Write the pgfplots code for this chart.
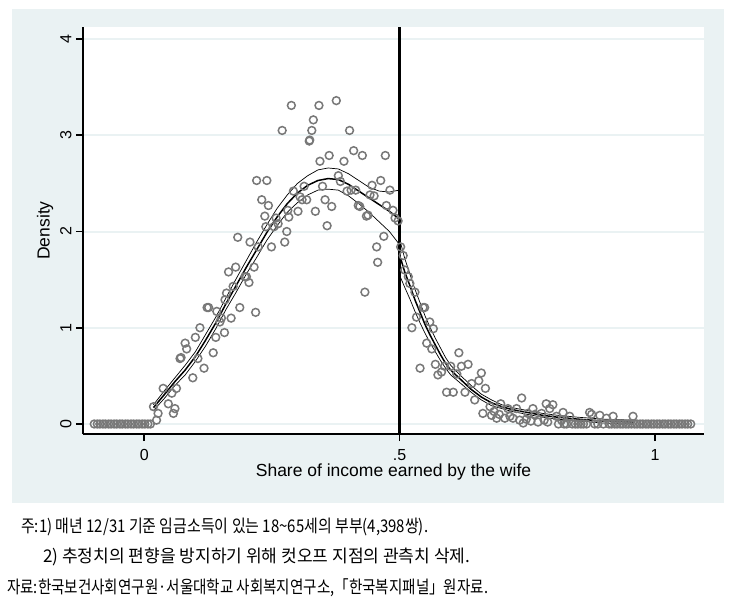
\documentclass[border=0pt]{standalone}
\usepackage{fontspec}
\setmainfont{Liberation Sans}
\newfontfamily\kr{Noto Sans CJK KR}
\usepackage{graphicx}
\usepackage{pgfplots}
\usepackage{pgfplotstable}
\pgfplotsset{compat=1.18}
\definecolor{bgc}{RGB}{234,242,243}
\definecolor{mk}{RGB}{120,120,120}

\pgfplotstableread{
x y
-0.098 0
-0.092 0
-0.087 0
-0.081 0
-0.076 0
-0.070 0
-0.065 0
-0.059 0
-0.054 0
-0.048 0
-0.043 0
-0.037 0
-0.032 0
-0.026 0
-0.021 0
-0.015 0
-0.010 0
-0.004 0
0.001 0
0.007 0
0.012 0
0.018 0.18
0.024 0.04
0.027 0.11
0.037 0.37
0.047 0.21
0.054 0.32
0.057 0.11
0.060 0.16
0.063 0.37
0.070 0.68
0.072 0.69
0.080 0.84
0.083 0.78
0.095 0.48
0.100 0.90
0.105 0.68
0.109 1.00
0.117 0.58
0.123 1.21
0.126 1.21
0.135 0.74
0.140 0.90
0.142 1.17
0.148 1.06
0.151 1.10
0.157 0.95
0.158 1.29
0.161 1.36
0.165 1.58
0.170 1.10
0.174 1.43
0.179 1.63
0.183 1.94
0.187 1.21
0.197 1.53
0.200 1.53
0.205 1.47
0.207 1.89
0.215 1.63
0.218 1.16
0.220 2.53
0.223 1.84
0.230 2.33
0.236 2.16
0.238 2.05
0.240 2.53
0.243 2.27
0.249 1.84
0.254 2.05
0.258 2.14
0.262 2.08
0.270 3.05
0.275 1.89
0.279 2.00
0.281 2.22
0.283 2.15
0.288 3.31
0.292 2.42
0.301 2.21
0.305 2.36
0.309 2.33
0.313 2.47
0.318 2.33
0.323 2.94
0.324 2.95
0.328 3.05
0.331 3.16
0.335 2.21
0.342 3.31
0.344 2.73
0.349 2.47
0.354 2.33
0.358 2.06
0.362 2.79
0.367 2.26
0.376 3.36
0.380 2.58
0.384 2.52
0.391 2.73
0.397 2.42
0.402 3.05
0.405 2.43
0.410 2.84
0.414 2.43
0.419 2.27
0.422 2.26
0.427 2.79
0.432 1.37
0.435 2.16
0.438 2.17
0.442 2.38
0.446 2.48
0.450 2.37
0.455 1.84
0.457 1.68
0.463 2.53
0.469 1.95
0.472 2.79
0.474 2.27
0.481 2.43
0.487 2.22
0.491 2.14
0.497 2.11
0.502 1.84
0.507 1.75
0.510 1.60
0.517 1.53
0.520 1.46
0.524 1.00
0.530 1.37
0.533 1.11
0.540 0.58
0.546 1.21
0.549 1.21
0.553 0.84
0.559 1.06
0.563 0.78
0.566 0.99
0.570 0.62
0.575 0.51
0.582 0.54
0.588 0.60
0.592 0.33
0.600 0.60
0.605 0.33
0.612 0.52
0.616 0.74
0.621 0.60
0.628 0.33
0.634 0.62
0.641 0.42
0.647 0.25
0.655 0.45
0.660 0.53
0.663 0.11
0.668 0.37
0.677 0.18
0.680 0.09
0.685 0.13
0.690 0.06
0.695 0.10
0.698 0.21
0.706 0.06
0.712 0.16
0.716 0.08
0.722 0.06
0.729 0.16
0.735 0.04
0.739 0.27
0.742 0.01
0.748 0.05
0.751 0.11
0.757 0.03
0.761 0.16
0.765 0.10
0.771 0.02
0.778 0.11
0.783 0.04
0.787 0.21
0.790 0.02
0.794 0.16
0.800 0.20
0.807 0.08
0.811 0
0.817 0.04
0.820 0.12
0.822 0
0.827 0
0.833 0.08
0.838 0
0.844 0
0.849 0
0.855 0
0.860 0
0.866 0
0.872 0.12
0.876 0.10
0.882 0
0.888 0
0.892 0.09
0.899 0
0.905 0.06
0.910 0
0.915 0
0.918 0.08
0.921 0
0.926 0
0.932 0
0.937 0
0.943 0
0.948 0
0.954 0
0.957 0.08
0.960 0
0.965 0
0.971 0
0.976 0
0.982 0
0.987 0
0.993 0
0.998 0
1.004 0
1.009 0
1.015 0
1.020 0
1.026 0
1.031 0
1.037 0
1.042 0
1.048 0
1.053 0
1.059 0
1.064 0
1.070 0
}\bins

\pgfplotstableread{
x c u l
0.018 0.17 0.20 0.14
0.04 0.31 0.35 0.27
0.06 0.44 0.48 0.40
0.08 0.56 0.61 0.51
0.10 0.70 0.75 0.65
0.12 0.87 0.93 0.81
0.14 1.05 1.11 0.99
0.16 1.25 1.31 1.19
0.18 1.44 1.51 1.37
0.20 1.63 1.70 1.56
0.22 1.81 1.89 1.73
0.24 1.99 2.07 1.91
0.26 2.15 2.24 2.06
0.28 2.29 2.38 2.20
0.30 2.40 2.50 2.30
0.32 2.48 2.58 2.38
0.34 2.53 2.64 2.43
0.36 2.55 2.66 2.44
0.38 2.54 2.65 2.43
0.40 2.49 2.60 2.37
0.42 2.42 2.53 2.29
0.44 2.35 2.46 2.20
0.46 2.28 2.42 2.10
0.48 2.21 2.41 2.00
0.499 2.13 2.43 1.87
}\leftfit

\pgfplotstableread{
x c u l
0.502 1.72 1.88 1.52
0.51 1.58 1.72 1.42
0.52 1.44 1.56 1.30
0.53 1.29 1.40 1.17
0.54 1.16 1.26 1.05
0.55 1.03 1.12 0.94
0.56 0.92 1.00 0.84
0.57 0.82 0.89 0.75
0.58 0.72 0.79 0.66
0.59 0.63 0.69 0.58
0.60 0.56 0.61 0.51
0.62 0.46 0.50 0.42
0.64 0.36 0.40 0.33
0.66 0.28 0.31 0.25
0.68 0.22 0.25 0.19
0.70 0.18 0.20 0.16
0.72 0.15 0.17 0.13
0.75 0.12 0.14 0.10
0.78 0.09 0.11 0.07
0.81 0.07 0.09 0.05
0.85 0.05 0.07 0.03
0.90 0.03 0.05 0.01
0.957 0.02 0.04 0.00
}\rightfit

\begin{document}
\begin{tikzpicture}[x=1pt,y=1pt]
\path[use as bounding box] (0,0) rectangle (739,606);
\fill[white] (0,0) rectangle (739,606);
\fill[bgc] (12,103) rectangle (724,597);
\fill[white] (83,172) rectangle (704,579);
\begin{axis}[
  at={(83pt,172pt)}, anchor=south west,
  scale only axis, width=621pt, height=407pt,
  xmin=-0.12, xmax=1.096, ymin=-0.104, ymax=4.125,
  axis x line*=bottom, axis y line*=left,
  axis line style={line width=2pt, -},
  tick align=outside,
  major tick length=7pt,
  every tick/.style={black, line width=1.6pt},
  xtick={0,0.5,1}, xticklabels={0,.5,1},
  ytick={0,1,2,3,4},
  ymajorgrids, grid style={bgc, line width=2pt},
  /pgf/number format/assume math mode=true,
  tick label style={font=\fontsize{16}{18}\selectfont},
  label style={font=\fontsize{17.5}{19}\selectfont},
  xticklabel style={yshift=-5pt},
  yticklabel style={rotate=90, anchor=south, yshift=1pt},
  xlabel={Share of income earned by the wife},
  ylabel={Density},
  xlabel style={at={(axis description cs:0.5,0)}, anchor=center, yshift=-37.7pt},
  ylabel style={at={(axis description cs:0,0.5)}, anchor=center, yshift=38pt},
  clip=false,
]
\addplot[only marks, mark=o, mark size=3.9pt, mk, mark options={line width=1.5pt}] table[x=x,y=y] {\bins};
\addplot[black, line width=1.5pt] table[x=x,y=c] {\leftfit};
\addplot[black, line width=0.7pt] table[x=x,y=u] {\leftfit};
\addplot[black, line width=0.7pt] table[x=x,y=l] {\leftfit};
\addplot[black, line width=1.5pt] table[x=x,y=c] {\rightfit};
\addplot[black, line width=0.7pt] table[x=x,y=u] {\rightfit};
\addplot[black, line width=0.7pt] table[x=x,y=l] {\rightfit};
\addplot[black, line width=2.8pt] coordinates {(0.5,-0.104) (0.5,4.125)};
\end{axis}
\node[anchor=base west, inner sep=0pt] at (21,74) {\resizebox{407pt}{\height}{\kr\fontsize{17.5}{19}\selectfont 주:1) 매년 12/31 기준 임금소득이 있는 18\textasciitilde65세의 부부(4,398쌍).}};
\node[anchor=base west, inner sep=0pt] at (43,44) {\resizebox{427pt}{\height}{\kr\fontsize{17.5}{19}\selectfont 2) 추정치의 편향을 방지하기 위해 컷오프 지점의 관측치 삭제.}};
\node[anchor=base west, inner sep=0pt] at (7,13) {\resizebox{481pt}{\height}{\kr\fontsize{17.5}{19}\selectfont 자료:한국보건사회연구원·서울대학교 사회복지연구소,「한국복지패널」원자료.}};
\end{tikzpicture}
\end{document}
